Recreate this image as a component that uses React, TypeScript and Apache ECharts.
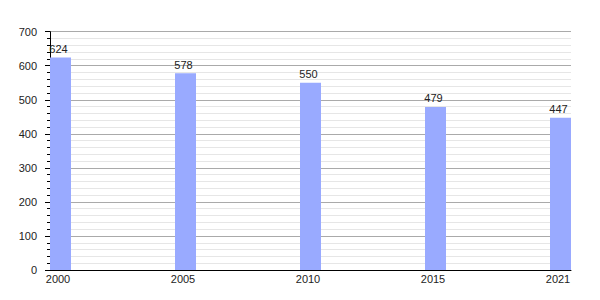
import React, { useEffect, useRef } from "react";
import * as echarts from "echarts";

const years = ["2000", "2005", "2010", "2015", "2021"];
const values = [624, 578, 550, 479, 447];
const yTicks = { min: 0, max: 700, interval: 100 };

export default function App() {
  const ref = useRef<HTMLDivElement>(null);
  useEffect(() => {
    if (!ref.current) return;
    const chart = echarts.init(ref.current, null, { renderer: "svg" });
    const barW = 21;
    const font = "Liberation Sans, Arial, sans-serif";
    chart.setOption({
      animation: false,
      grid: { left: 50, right: 29, top: 31.7, bottom: 30, containLabel: false },
      xAxis: {
        type: "value",
        min: 0,
        max: 4.168,
        interval: 1,
        axisLine: { show: true, lineStyle: { color: "#000", width: 1 } },
        axisTick: { show: false },
        splitLine: { show: false },
        axisLabel: {
          fontFamily: font,
          fontSize: 11,
          color: "#222",
          margin: 3,
          padding: [0, 0, 0, 16],
          formatter: (v: number) => (Number.isInteger(v) && years[v] ? years[v] : ""),
          showMaxLabel: false,
        },
      },
      yAxis: {
        type: "value",
        min: yTicks.min,
        max: yTicks.max,
        interval: yTicks.interval,
        axisLine: { show: true, lineStyle: { color: "#000", width: 1 } },
        axisTick: { show: true, length: 5, lineStyle: { color: "#000" } },
        minorTick: { show: true, splitNumber: 5, length: 3, lineStyle: { color: "#000" } },
        splitLine: { show: true, lineStyle: { color: "#aaaaaa", width: 1 } },
        minorSplitLine: { show: true, lineStyle: { color: "#e6e6e6", width: 1 } },
        axisLabel: { fontFamily: font, fontSize: 11, color: "#222", margin: 13 },
      },
      series: [
        {
          type: "custom",
          data: values.map((v, i) => [i, v]),
          renderItem: (params: any, api: any) => {
            const x = api.value(0);
            const v = api.value(1);
            const p0 = api.coord([x, 0]);
            const p1 = api.coord([x, v]);
            return {
              type: "group",
              children: [
                {
                  type: "rect",
                  shape: { x: p0[0], y: p1[1], width: barW, height: p0[1] - p1[1] },
                  style: { fill: "#99aaff" },
                },
                {
                  type: "text",
                  style: {
                    text: String(v),
                    x: p0[0] + 8.5,
                    y: p1[1] - 3,
                    align: "center",
                    verticalAlign: "bottom",
                    fontFamily: font,
                    fontSize: 11,
                    fill: "#222",
                  },
                },
              ],
            };
          },
        },
      ],
    });
    return () => chart.dispose();
  }, []);
  return <div ref={ref} style={{ width: 600, height: 300, position: "absolute", left: 0, top: 0 }} />;
}
